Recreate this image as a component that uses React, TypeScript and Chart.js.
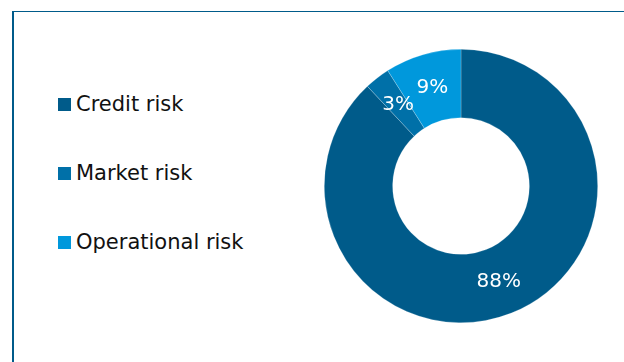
import React, { useEffect, useRef } from "react";
import { Chart, registerables } from "chart.js";

Chart.register(...registerables);

const categories = ["Credit risk", "Market risk", "Operational risk"];
const values = [88, 3, 9];
const valueLabels = ["88%", "3%", "9%"];
const colors = ["#005B8A", "#0070A8", "#0098DC"];

const FONT = "'DejaVu Sans', Verdana, sans-serif";

const labelPlugin = {
  id: "sliceLabels",
  afterDatasetsDraw(chart: any) {
    const ctx = chart.ctx;
    const meta = chart.getDatasetMeta(0);
    ctx.save();
    ctx.fillStyle = "#ffffff";
    ctx.font = `20px ${FONT}`;
    ctx.textAlign = "center";
    ctx.textBaseline = "middle";
    meta.data.forEach((arc: any, i: number) => {
      const p = arc.tooltipPosition();
      ctx.fillText(valueLabels[i], p.x, p.y);
    });
    ctx.restore();
  },
};

export default function App() {
  const ref = useRef<HTMLCanvasElement>(null);
  useEffect(() => {
    document.body.style.margin = "0";
    const chart = new Chart(ref.current!, {
      type: "doughnut",
      data: {
        labels: categories,
        datasets: [
          {
            data: values,
            backgroundColor: colors,
            borderColor: "rgba(255,255,255,0.35)",
            borderWidth: 0.6,
          },
        ],
      },
      options: {
        responsive: false,
        animation: false,
        cutout: "50%",
        layout: { padding: 13 },
        plugins: { legend: { display: false }, tooltip: { enabled: false } },
      },
      plugins: [labelPlugin],
    });
    return () => chart.destroy();
  }, []);

  return (
    <div
      style={{
        position: "fixed",
        left: 0,
        top: 0,
        width: 624,
        height: 362,
        background: "#fff",
        overflow: "hidden",
        fontFamily: FONT,
      }}
    >
      <div
        style={{
          position: "absolute",
          left: 12,
          top: 11,
          right: 0,
          bottom: 0,
          borderLeft: "2px solid #005B8A",
          borderTop: "1px solid #005B8A",
        }}
      />
      {categories.map((c, i) => (
        <div
          key={c}
          style={{
            position: "absolute",
            left: 58,
            top: 104 + i * 69 - 15,
            height: 30,
            display: "flex",
            alignItems: "center",
            fontSize: 21,
            color: "#111",
            whiteSpace: "nowrap",
          }}
        >
          <span
            style={{
              display: "inline-block",
              width: 13,
              height: 13,
              background: colors[i],
              marginRight: 5,
            }}
          />
          {c}
        </div>
      ))}
      <canvas
        ref={ref}
        width={300}
        height={300}
        style={{ position: "absolute", left: 311, top: 36, width: 300, height: 300 }}
      />
    </div>
  );
}
